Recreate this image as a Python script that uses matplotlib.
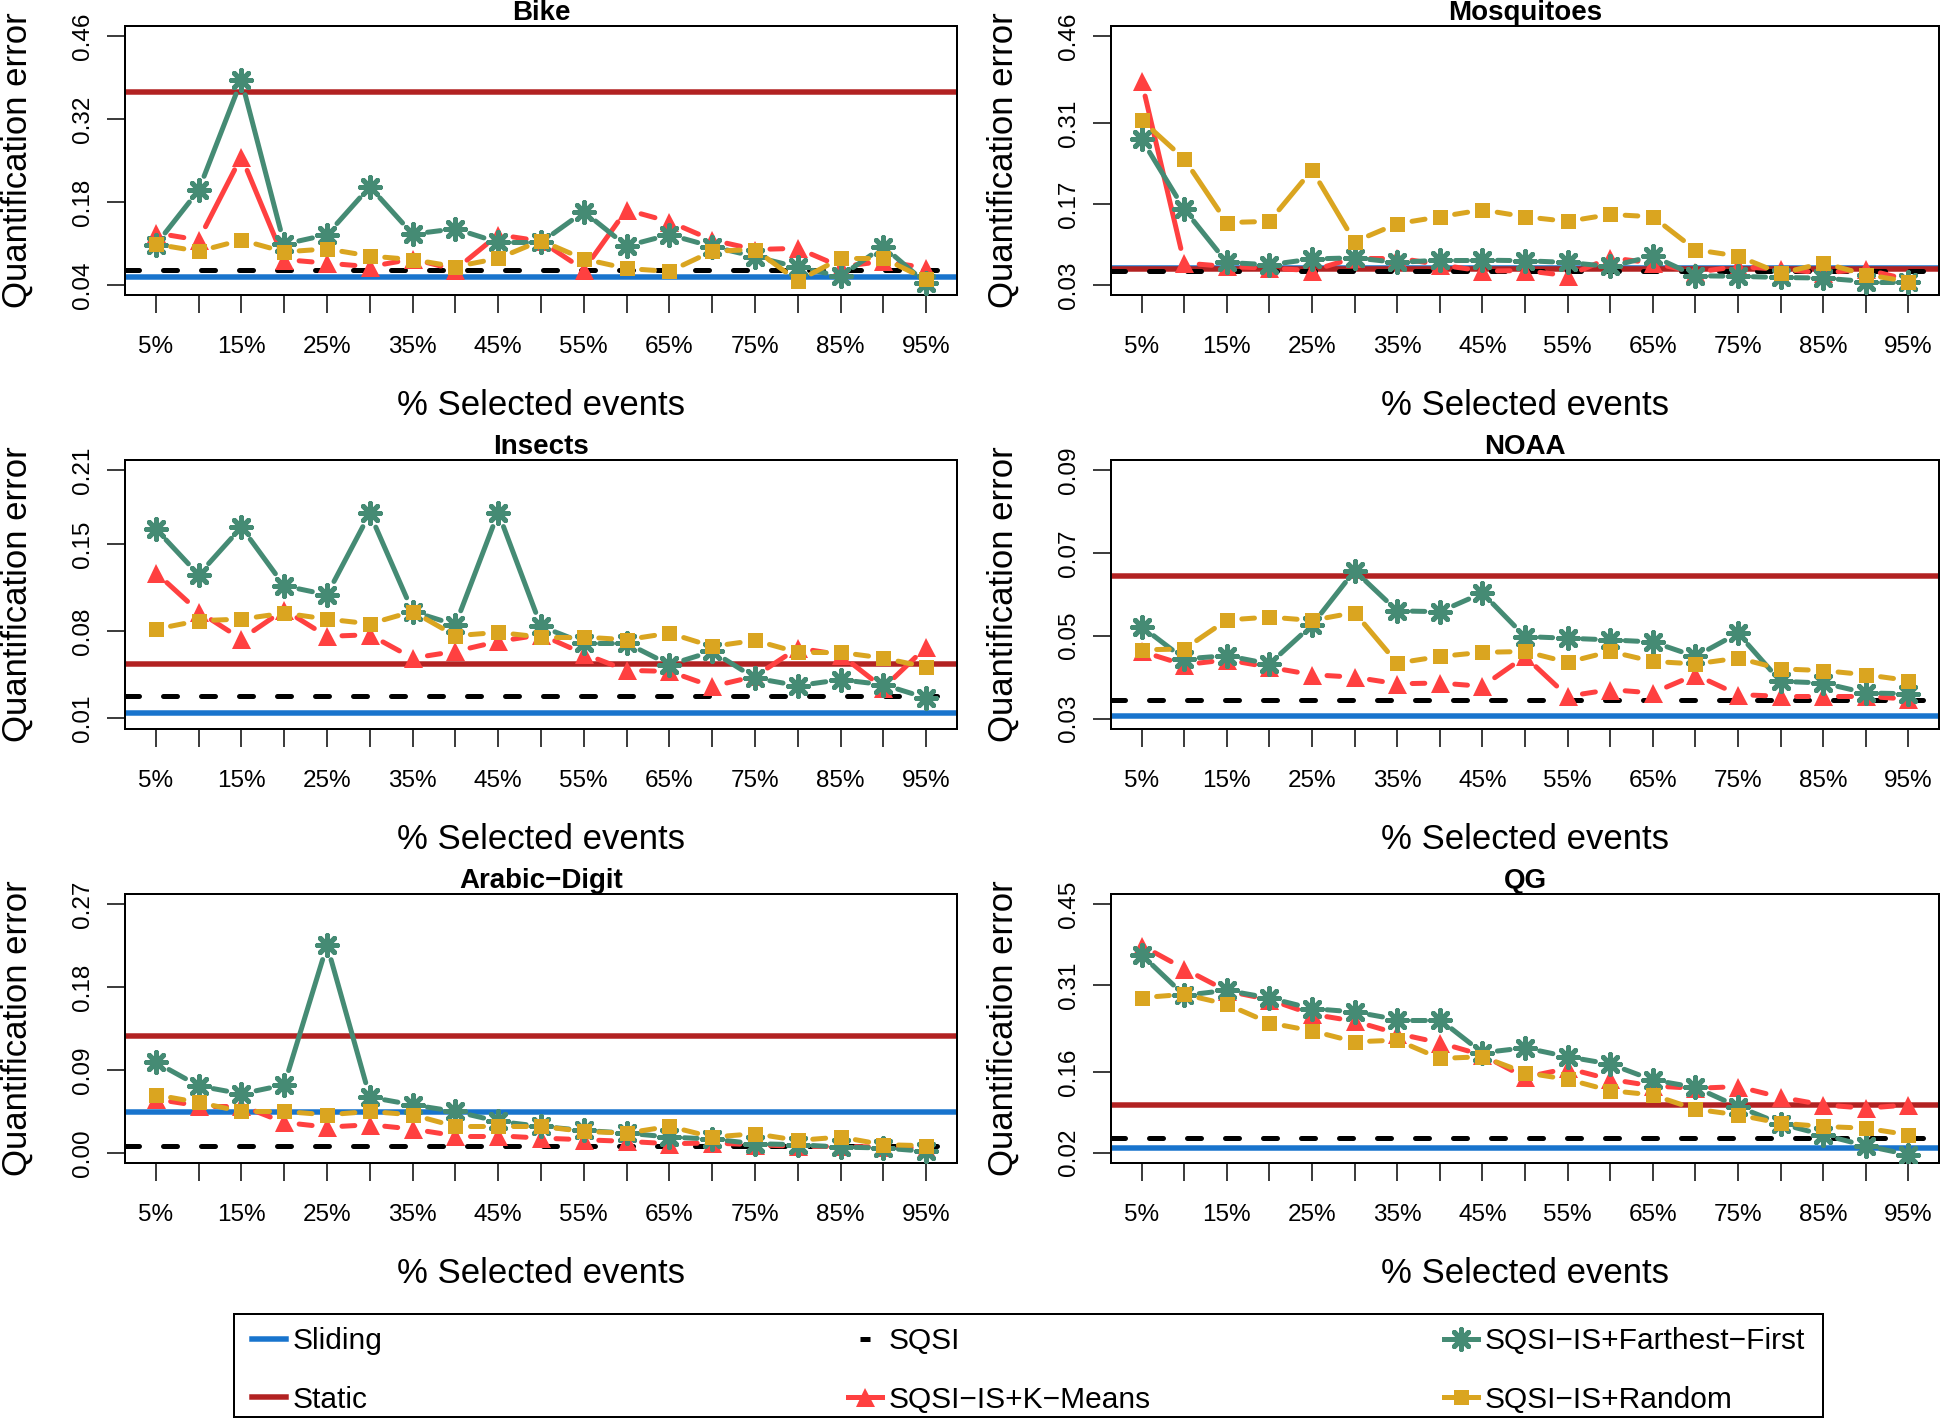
import matplotlib
matplotlib.use("Agg")
import matplotlib.pyplot as plt
import numpy as np
from matplotlib.collections import LineCollection
from matplotlib.lines import Line2D
from matplotlib.markers import MarkerStyle
from matplotlib.patches import Rectangle

plt.rcParams['font.family'] = ['Liberation Sans', 'DejaVu Sans']

W, H = 1942, 1419
DPI = 100
PX = 72.0 / DPI   # points per pixel

# ---- data -----------------------------------------------------------------
pct = [5, 10, 15, 20, 25, 30, 35, 40, 45, 50, 55, 60, 65, 70, 75, 80, 85, 90, 95]
tick_names = [f"{p}%" for p in pct]

bike_sliding, bike_static, bike_sqsi = 0.054, 0.366, 0.065
bike_ff = [0.108, 0.200, 0.386, 0.109, 0.125, 0.206, 0.126, 0.135, 0.112, 0.112,
           0.164, 0.106, 0.125, 0.105, 0.088, 0.070, 0.055, 0.105, 0.043]
bike_km = [0.128, 0.116, 0.257, 0.083, 0.077, 0.071, 0.084, 0.066, 0.125, 0.114,
           0.066, 0.167, 0.147, 0.116, 0.100, 0.102, 0.071, 0.080, 0.069]
bike_rnd = [0.109, 0.097, 0.116, 0.096, 0.101, 0.089, 0.083, 0.071, 0.085, 0.115,
            0.084, 0.068, 0.063, 0.097, 0.100, 0.047, 0.085, 0.085, 0.050]

mosq_sliding, mosq_static, mosq_sqsi = 0.059, 0.058, 0.055
mosq_ff = [0.282, 0.161, 0.069, 0.065, 0.075, 0.077, 0.069, 0.073, 0.073, 0.072,
           0.069, 0.062, 0.080, 0.046, 0.045, 0.043, 0.042, 0.036, 0.036]
mosq_km = [0.382, 0.068, 0.062, 0.059, 0.055, 0.077, 0.077, 0.065, 0.054, 0.055,
           0.046, 0.077, 0.068, 0.052, 0.062, 0.057, 0.051, 0.057, 0.039]
mosq_rnd = [0.315, 0.248, 0.138, 0.140, 0.229, 0.105, 0.136, 0.148, 0.160, 0.148,
            0.140, 0.152, 0.148, 0.091, 0.080, 0.050, 0.068, 0.048, 0.036]

ins_sliding, ins_static, ins_sqsi = 0.0143, 0.0534, 0.0282
ins_ff = [0.1625, 0.1256, 0.1639, 0.1167, 0.1095, 0.1750, 0.0960, 0.0853, 0.1757, 0.0840,
          0.0706, 0.0706, 0.0532, 0.0639, 0.0424, 0.0363, 0.0411, 0.0371, 0.0264]
ins_km = [0.1274, 0.0960, 0.0738, 0.0974, 0.0760, 0.0773, 0.0585, 0.0639, 0.0719, 0.0773,
          0.0620, 0.0486, 0.0478, 0.0357, 0.0438, 0.0666, 0.0612, 0.0344, 0.0674]
ins_rnd = [0.0818, 0.0886, 0.0899, 0.0947, 0.0899, 0.0861, 0.0960, 0.0765, 0.0792, 0.0754,
           0.0754, 0.0733, 0.0786, 0.0679, 0.0727, 0.0631, 0.0631, 0.0585, 0.0513]

noaa_sliding, noaa_static, noaa_sqsi = 0.0307, 0.0645, 0.0344
noaa_ff = [0.0522, 0.0444, 0.0452, 0.0432, 0.0526, 0.0657, 0.0560, 0.0558, 0.0603, 0.0498,
           0.0494, 0.0490, 0.0485, 0.0450, 0.0506, 0.0390, 0.0386, 0.0362, 0.0360]
noaa_km = [0.0462, 0.0430, 0.0442, 0.0424, 0.0406, 0.0400, 0.0384, 0.0386, 0.0378, 0.0450,
           0.0354, 0.0370, 0.0362, 0.0406, 0.0358, 0.0354, 0.0354, 0.0354, 0.0347]
noaa_rnd = [0.0466, 0.0468, 0.0538, 0.0545, 0.0537, 0.0556, 0.0434, 0.0450, 0.0460, 0.0462,
            0.0436, 0.0462, 0.0438, 0.0432, 0.0446, 0.0420, 0.0416, 0.0406, 0.0392]

arab_sliding, arab_static, arab_sqsi = 0.0437, 0.1269, 0.0076
arab_ff = [0.0983, 0.0726, 0.0640, 0.0737, 0.2255, 0.0604, 0.0520, 0.0448, 0.0340, 0.0286,
           0.0242, 0.0213, 0.0170, 0.0148, 0.0098, 0.0087, 0.0061, 0.0051, 0.0014]
arab_km = [0.0582, 0.0510, 0.0510, 0.0329, 0.0278, 0.0304, 0.0257, 0.0184, 0.0184, 0.0159,
           0.0141, 0.0123, 0.0098, 0.0105, 0.0087, 0.0069, 0.0069, 0.0061, 0.0051]
arab_rnd = [0.0629, 0.0546, 0.0448, 0.0448, 0.0412, 0.0448, 0.0412, 0.0286, 0.0286, 0.0286,
            0.0231, 0.0213, 0.0286, 0.0170, 0.0206, 0.0134, 0.0170, 0.0087, 0.0076]

qg_sliding, qg_static, qg_sqsi = 0.028, 0.1028, 0.0453
qg_ff = [0.3625, 0.2924, 0.3010, 0.2878, 0.2694, 0.2637, 0.2505, 0.2505, 0.1930, 0.2016,
         0.1861, 0.1734, 0.1459, 0.1332, 0.0999, 0.0700, 0.0510, 0.0321, 0.0166]
qg_km = [0.3786, 0.3384, 0.2999, 0.2849, 0.2597, 0.2476, 0.2263, 0.2102, 0.1890, 0.1505,
         0.1660, 0.1470, 0.1355, 0.1315, 0.1344, 0.1160, 0.1028, 0.0970, 0.1028]
qg_rnd = [0.2884, 0.2941, 0.2769, 0.2447, 0.2309, 0.2120, 0.2148, 0.1832, 0.1861, 0.1585,
          0.1470, 0.1275, 0.1200, 0.0953, 0.0855, 0.0711, 0.0654, 0.0625, 0.0510]

# per panel: y ticks and y limits
bike_yticks, bike_ylim = [0.04, 0.18, 0.32, 0.46], (0.0232, 0.4774)
mosq_yticks, mosq_ylim = [0.03, 0.17, 0.31, 0.46], (0.0127, 0.4779)
ins_yticks, ins_ylim = [0.01, 0.08, 0.15, 0.21], (0.0014, 0.2180)
noaa_yticks, noaa_ylim = [0.03, 0.05, 0.07, 0.09], (0.0275, 0.0924)
arab_yticks, arab_ylim = [0.00, 0.09, 0.18, 0.27], (-0.0112, 0.2812)
qg_yticks, qg_ylim = [0.02, 0.16, 0.31, 0.45], (0.0022, 0.4678)

panels = [
    ("Bike", bike_sliding, bike_static, bike_sqsi, bike_ff, bike_km, bike_rnd, bike_yticks, bike_ylim),
    ("Mosquitoes", mosq_sliding, mosq_static, mosq_sqsi, mosq_ff, mosq_km, mosq_rnd, mosq_yticks, mosq_ylim),
    ("Insects", ins_sliding, ins_static, ins_sqsi, ins_ff, ins_km, ins_rnd, ins_yticks, ins_ylim),
    ("NOAA", noaa_sliding, noaa_static, noaa_sqsi, noaa_ff, noaa_km, noaa_rnd, noaa_yticks, noaa_ylim),
    ("Arabic\u2212Digit", arab_sliding, arab_static, arab_sqsi, arab_ff, arab_km, arab_rnd, arab_yticks, arab_ylim),
    ("QG", qg_sliding, qg_static, qg_sqsi, qg_ff, qg_km, qg_rnd, qg_yticks, qg_ylim),
]

# ---- style ----------------------------------------------------------------
C_SLIDING = '#1874CD'
C_STATIC = '#B22222'
C_SQSI = '#000000'
C_FF = '#458B74'
C_KM = '#FF4040'
C_RND = '#DAA520'

LW_H = 5.5 * PX     # horizontal reference lines
LW_S = 5 * PX       # series lines
GAP = 15            # px gap around points (R type = "b")
STAR = MarkerStyle((8, 2, 0), capstyle='round', joinstyle='round')

# axes boxes in pixels (left, right) / (top, bottom)
cols = [(125, 957), (1111, 1939)]
rows = [(26, 295), (460, 729), (894, 1163)]


def gapped_segments(ax, xs, ys, gap):
    pts = ax.transData.transform(np.column_stack([xs, ys]))
    inv = ax.transData.inverted()
    segs = []
    for p0, p1 in zip(pts[:-1], pts[1:]):
        d = p1 - p0
        L = np.hypot(d[0], d[1])
        if L <= 2 * gap + 2:
            continue
        u = d / L
        segs.append(inv.transform(np.array([p0 + u * gap, p1 - u * gap])))
    return segs


def draw_series(ax, xs, ys, color, marker, ms, mew, z):
    segs = gapped_segments(ax, xs, ys, GAP)
    lc = LineCollection(segs, colors=color, linewidths=LW_S, capstyle='round', zorder=z)
    ax.add_collection(lc)
    ax.plot(xs, ys, linestyle='none', marker=marker, markersize=ms * PX,
            markeredgewidth=mew * PX, color=color, zorder=z + 0.5)


fig = plt.figure(figsize=(W / DPI, H / DPI), dpi=DPI)
x = np.arange(1, len(pct) + 1)

for i, (title, sl, st, sq, ff, km, rnd, yt, yl) in enumerate(panels):
    (x0, x1), (y0, y1) = cols[i % 2], rows[i // 2]
    ax = fig.add_axes([x0 / W, 1 - y1 / H, (x1 - x0) / W, (y1 - y0) / H])
    ax.set_xlim(0.28, 19.72)
    ax.set_ylim(*yl)

    ax.axhline(sl, color=C_SLIDING, lw=LW_H, zorder=1)
    ax.axhline(st, color=C_STATIC, lw=LW_H, zorder=1.2)
    ax.axhline(sq, color=C_SQSI, lw=5 * PX, linestyle=(0, (2.8, 4.8)),
               dash_capstyle='round', zorder=1.5)

    draw_series(ax, x, km, C_KM, '^', 19, 0, 3)
    draw_series(ax, x, ff, C_FF, STAR, 20, 5, 4)
    draw_series(ax, x, rnd, C_RND, 's', 15, 0, 5)

    ax.set_xticks(x)
    ax.set_xticklabels([t if k % 2 == 0 else '' for k, t in enumerate(tick_names)])
    ax.set_yticks(yt)
    ax.set_yticklabels([f"{v:.2f}" for v in yt], rotation=90, va='center')
    ax.tick_params(axis='both', length=18 * PX, width=1.5 * PX, labelsize=17.5)
    ax.tick_params(axis='x', pad=23 * PX)
    ax.tick_params(axis='y', pad=13 * PX)
    for sp in ax.spines.values():
        sp.set_linewidth(2 * PX)

    ax.set_title(title, fontsize=20, fontweight='bold', pad=3)
    ax.set_xlabel('% Selected events', fontsize=25, labelpad=31 * PX)
    ax.set_ylabel('Quantification error', fontsize=25, labelpad=38 * PX)

# ---- legend ---------------------------------------------------------------
h_sliding = Line2D([], [], color=C_SLIDING, lw=LW_H)
h_static = Line2D([], [], color=C_STATIC, lw=LW_H)
h_sqsi = Line2D([], [], color=C_SQSI, linestyle='none', marker='_',
                markersize=10 * PX, markeredgewidth=5 * PX)
h_km = Line2D([], [], color=C_KM, lw=LW_S, marker='^', markersize=19 * PX, markeredgewidth=0)
h_ff = Line2D([], [], color=C_FF, lw=LW_S, marker=STAR, markersize=20 * PX,
              markeredgewidth=5 * PX)
h_rnd = Line2D([], [], color=C_RND, lw=LW_S, marker='s', markersize=15 * PX, markeredgewidth=0)

leg_cols = [
    (252, [h_sliding, h_static], ['Sliding', 'Static']),
    (848, [h_sqsi, h_km], ['SQSI', 'SQSI\u2212IS+K\u2212Means']),
    (1444, [h_ff, h_rnd], ['SQSI\u2212IS+Farthest\u2212First', 'SQSI\u2212IS+Random']),
]
for lx, hs, ls in leg_cols:
    fig.legend(hs, ls, loc='center left', bbox_to_anchor=(lx / W, 1 - 1370.5 / H),
               frameon=False, fontsize=21.5, borderpad=0, borderaxespad=0,
               handlelength=1.15, handletextpad=0.22, labelspacing=1.02)

fig.patches.append(Rectangle((234 / W, 1 - 1417 / H), (1823 - 234) / W, (1417 - 1314) / H,
                             transform=fig.transFigure, fill=False, lw=2 * PX,
                             edgecolor='black'))

fig.savefig('out.png', dpi=DPI, facecolor='white')
